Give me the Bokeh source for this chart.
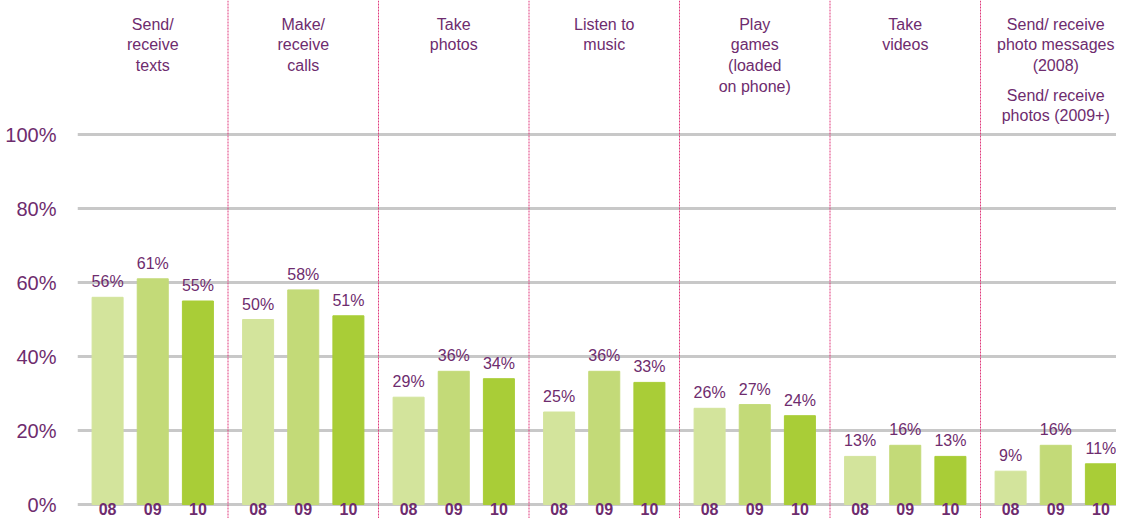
from bokeh.plotting import figure
from bokeh.models import ColumnDataSource, Span, FixedTicker, CustomJSTickFormatter
from bokeh.core.properties import value
from bokeh.embed import file_html
from bokeh.resources import INLINE

categories = ["Send/\nreceive\ntexts", "Make/\nreceive\ncalls", "Take\nphotos",
              "Listen to\nmusic", "Play\ngames\n(loaded\non phone)", "Take\nvideos",
              "Send/ receive\nphoto messages\n(2008)"]
header_note = "Send/ receive\nphotos (2009+)"
years = ["08", "09", "10"]
y08 = [56, 50, 29, 25, 26, 13, 9]
y09 = [61, 58, 36, 36, 27, 16, 16]
y10 = [55, 51, 34, 33, 24, 13, 11]
y_ticks = [0, 20, 40, 60, 80, 100]

colors = ["#d3e49c", "#c3da78", "#a9cd37"]
purple = "#6e2c6e"
FONT = value("Liberation Sans")

W, H = 1116, 518
left = 77
px_per_unit = 150.5
px_per_pct = 3.7
zero_y = 504


def ypix(py):
    return (zero_y - py) / px_per_pct


p = figure(width=W, height=H, output_backend="svg", toolbar_location=None,
           x_range=(0, (W - left) / px_per_unit),
           y_range=(ypix(H), ypix(0)),
           min_border_left=left, min_border_right=0, min_border_top=0, min_border_bottom=0,
           outline_line_color=None, background_fill_color="white", border_fill_color="white")

p.xaxis.visible = False
p.xgrid.visible = False
p.yaxis.ticker = FixedTicker(ticks=y_ticks)
p.yaxis.formatter = CustomJSTickFormatter(code="return tick + '%';")
p.yaxis.axis_line_color = None
p.yaxis.major_tick_line_color = None
p.yaxis.minor_tick_line_color = None
p.yaxis.major_label_text_font = "Liberation Sans"
p.yaxis.major_label_text_font_size = "20px"
p.yaxis.major_label_text_color = purple
p.yaxis.major_label_standoff = 15
p.ygrid.grid_line_color = "#c8c8c8"
p.ygrid.grid_line_width = 3

n = len(categories)
centers = [i + 0.5 for i in range(n)]
offsets = [-0.3, 0.0, 0.3]
series = [y08, y09, y10]

for k, (vals, col) in enumerate(zip(series, colors)):
    xs = [c + offsets[k] for c in centers]
    src = ColumnDataSource(dict(x=xs, top=vals, lab=[f"{v}%" for v in vals],
                                yr=[years[k]] * n))
    p.vbar(x="x", top="top", bottom=0, width=0.206, color=col, source=src)
    p.text(x="x", y="top", text="lab", source=src, text_align="center",
           text_baseline="bottom", y_offset=-7, text_font=FONT,
           text_font_size="16px", text_color=purple)
    p.text(x="x", y=ypix(508.5), text="yr", source=src,
           text_align="center", text_baseline="middle", text_font=FONT,
           text_font_size="16px", text_font_style="bold", text_color=purple)

for b in range(1, n):
    p.add_layout(Span(location=b, dimension="height", line_color="#e03a7c",
                      line_width=1, line_dash="2 1"))

hsrc = ColumnDataSource(dict(x=centers, t=categories))
p.text(x="x", y=ypix(15), text="t", source=hsrc,
       text_align="center", text_baseline="top", text_font=FONT,
       text_font_size="16px", text_color=purple, text_line_height=1.22)
p.text(x=[centers[-1]], y=[ypix(86)], text=[header_note],
       text_align="center", text_baseline="top", text_font=FONT,
       text_font_size="16px", text_color=purple, text_line_height=1.22)

open("out.html", "w").write(file_html(p, INLINE))
